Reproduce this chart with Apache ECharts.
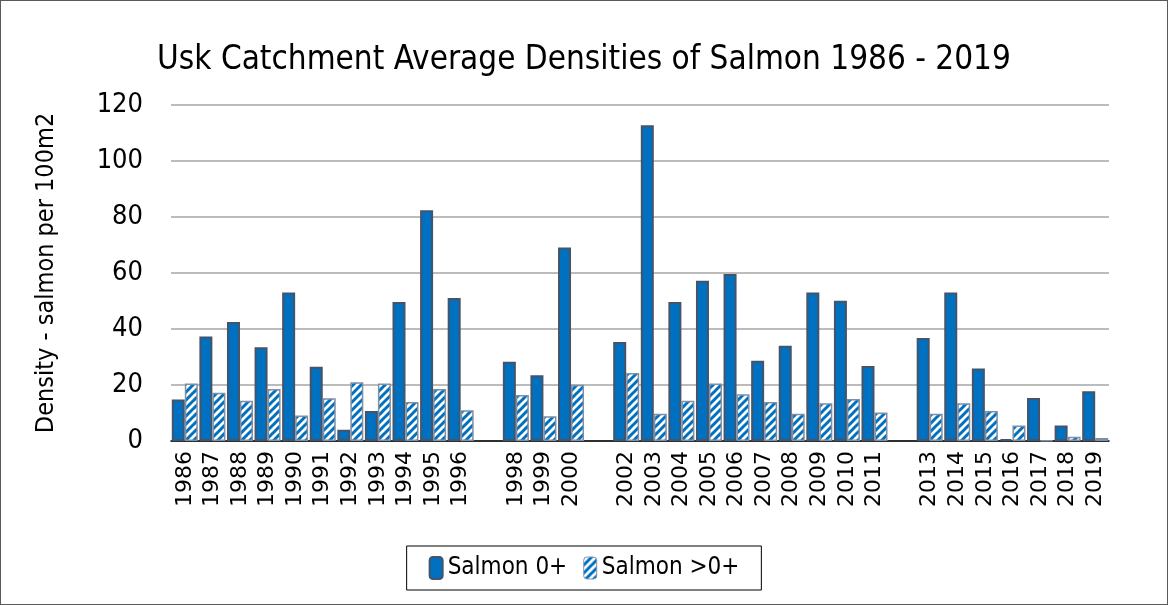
<!DOCTYPE html>
<html>
<head>
<meta charset="utf-8">
<script src="https://cdn.jsdelivr.net/npm/echarts@6/dist/echarts.min.js"></script>
<style>
  html, body { margin: 0; padding: 0; background: #fff; }
  #chart { width: 1168px; height: 605px; box-sizing: border-box; border: 1px solid #595959; }
</style>
</head>
<body>
<div id="chart"></div>
<script>
// years, with '' for the years that were not sampled
const years = ['1986', '1987', '1988', '1989', '1990', '1991', '1992', '1993', '1994', '1995', '1996', '',
  '1998', '1999', '2000', '',
  '2002', '2003', '2004', '2005', '2006', '2007', '2008', '2009', '2010', '2011', '',
  '2013', '2014', '2015', '2016', '2017', '2018', '2019']

const salmon0 = [14.8, 37.3, 42.5, 33.5, 53.0, 26.5, 4.0, 10.7, 49.6, 82.4, 51.1, '-',
  28.3, 23.5, 69.1, '-',
  35.4, 112.8, 49.6, 57.2, 59.6, 28.7, 34.0, 53.0, 50.1, 26.8, '-',
  36.8, 53.0, 25.9, 0.7, 15.4, 5.5, 17.8]

const salmonOver0 = [20.5, 17.2, 14.4, 18.6, 9.1, 15.3, 21.0, 20.5, 13.9, 18.6, 11.0, '-',
  16.4, 8.8, 20.1, '-',
  24.3, 9.7, 14.4, 20.5, 16.7, 13.9, 9.7, 13.5, 15.0, 10.2, '-',
  9.7, 13.5, 10.7, 5.5, 0.2, 1.5, 1.1]

const yTicks = { min: 0, max: 120, interval: 20 }

const font = '"Liberation Sans Narrow", "DejaVu Sans Condensed", "Liberation Sans", sans-serif'

// diagonal blue/white stripes for the >0+ series
function stripes() {
  const c = document.createElement('canvas')
  c.width = 8
  c.height = 8
  const ctx = c.getContext('2d')
  ctx.fillStyle = '#ffffff'
  ctx.fillRect(0, 0, 8, 8)
  ctx.strokeStyle = '#0070C0'
  ctx.lineWidth = 3
  ctx.beginPath()
  ctx.moveTo(-2, 10); ctx.lineTo(10, -2)
  ctx.moveTo(-6, 6); ctx.lineTo(6, -6)
  ctx.moveTo(2, 14); ctx.lineTo(14, 2)
  ctx.stroke()
  return c
}
const stripeFill = { image: stripes(), repeat: 'repeat' }

const chart = echarts.init(document.getElementById('chart'))
chart.setOption({
  animation: false,
  title: {
    text: 'Usk Catchment Average Densities of Salmon 1986 - 2019',
    left: 'center',
    top: 38,
    textStyle: { fontFamily: font, fontSize: 33, fontWeight: 'normal', color: '#000' }
  },
  legend: {
    bottom: 14,
    left: 'center',
    padding: [10, 22],
    borderColor: '#000',
    borderWidth: 1,
    itemWidth: 13,
    itemHeight: 22,
    itemGap: 16,
    textStyle: { fontFamily: font, fontSize: 24, color: '#000' },
    data: [
      { name: 'Salmon 0+', itemStyle: { color: '#0070C0', borderColor: '#44546A', borderWidth: 2 } },
      { name: 'Salmon >0+', itemStyle: { color: stripeFill, borderColor: '#8497B0', borderWidth: 1 } }
    ]
  },
  grid: { left: 170, right: 58, top: 104, bottom: 163 },
  xAxis: {
    type: 'category',
    data: years,
    axisLine: { lineStyle: { color: '#000', width: 1.5 } },
    axisTick: { show: false },
    axisLabel: {
      rotate: 90,
      interval: 0,
      margin: 10,
      fontFamily: '"DejaVu Sans", sans-serif',
      fontSize: 22,
      color: '#000'
    }
  },
  yAxis: {
    type: 'value',
    min: yTicks.min,
    max: yTicks.max,
    interval: yTicks.interval,
    name: 'Density - salmon per 100m2',
    nameLocation: 'middle',
    nameGap: 112,
    nameTextStyle: { fontFamily: font, fontSize: 25, color: '#000' },
    axisLine: { show: false },
    axisTick: { show: false },
    axisLabel: { fontFamily: font, fontSize: 27, color: '#000', margin: 28 },
    splitLine: { lineStyle: { color: '#a6a6a6', width: 1.5 } }
  },
  series: [
    {
      name: 'Salmon 0+',
      type: 'bar',
      data: salmon0,
      barWidth: 13,
      barGap: '0%',
      itemStyle: { color: '#0070C0', borderColor: '#44546A', borderWidth: 2 }
    },
    {
      name: 'Salmon >0+',
      type: 'bar',
      data: salmonOver0,
      barWidth: 13,
      itemStyle: { color: stripeFill, borderColor: '#7f8fa6', borderWidth: 1.5 }
    }
  ]
})
</script>
</body>
</html>
